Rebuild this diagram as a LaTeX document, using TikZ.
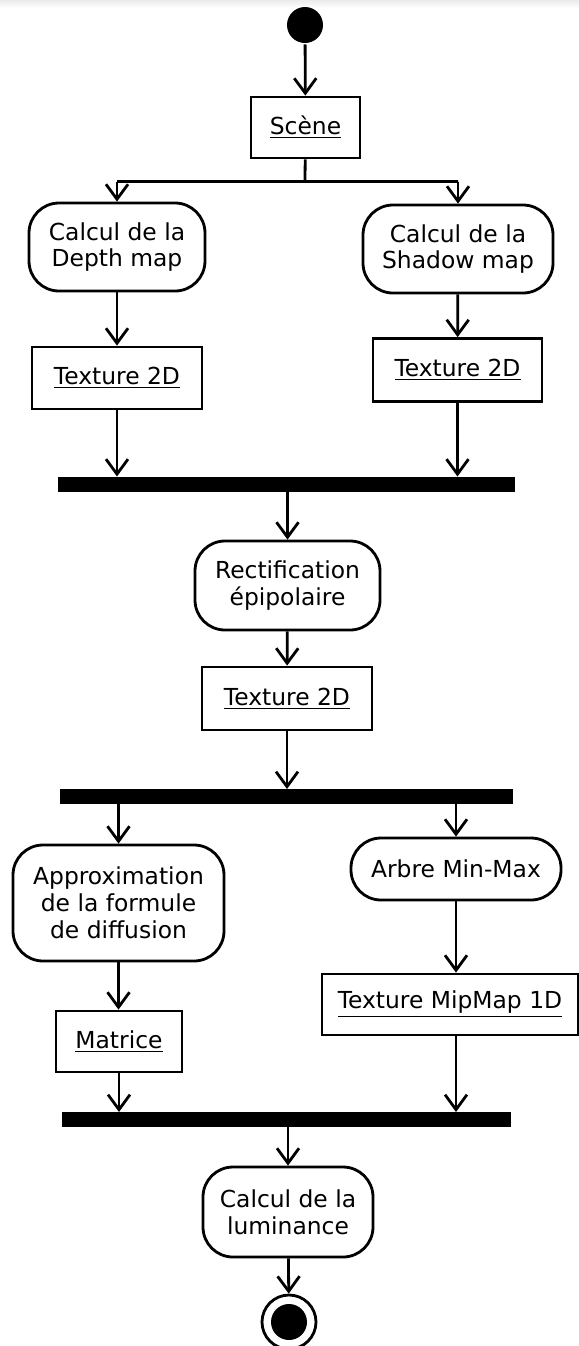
\documentclass[tikz,border=0pt]{standalone}
\usepackage{fontspec}
\setmainfont{DejaVu Sans}
\usetikzlibrary{arrows.meta}
\begin{document}
\begin{tikzpicture}[x=0.5pt,y=-0.5pt,>={Straight Barb[length=7.5pt,width=11pt]},line width=1.4pt,
	font=\fontsize{11.7}{13.4}\selectfont,
	act/.style={draw,rounded corners=15pt,align=center,inner sep=0pt},
	obj/.style={draw,rectangle,align=center,inner sep=0pt},
	bar/.style={fill=black,inner sep=0pt,outer sep=0pt,minimum height=7.5pt},
	init/.style={circle,fill=black,inner sep=0pt,minimum size=18pt},
	final/.style={circle,draw,inner sep=0pt,minimum size=27pt,path picture={\fill (path picture bounding box.center) circle (9pt);}}]
	\useasboundingbox (0,0) rectangle (579,1346);
	\shade[top color=black!8,bottom color=white,draw=none] (0,0) rectangle (579,8);
	\node[init] (start) at (305,25) {};
	\node[obj,minimum width=54.5pt,minimum height=30.5pt] (scene) at (305.5,127.5) {\underline{Scène}};
	\path (305,181.5) coordinate (split);
	\node[act,minimum width=88pt,minimum height=44pt] (depth) at (117,247) {Calcul de la\\Depth map};
	\node[act,minimum width=95pt,minimum height=44pt] (shadow) at (458,249) {Calcul de la\\Shadow map};
	\node[obj,minimum width=85pt,minimum height=31pt] (texA) at (117,378) {\underline{Texture 2D}};
	\node[obj,minimum width=84.5pt,minimum height=31.5pt] (texB) at (457.5,370) {\underline{Texture 2D}};
	\node[bar,minimum width=228.5pt] (barA) at (286.5,484) {};
	\node[act,minimum width=92.5pt,minimum height=44.5pt] (rectif) at (287.5,585.5) {Rectification\\épipolaire};
	\node[obj,minimum width=85pt,minimum height=31.5pt] (texC) at (287,698.5) {\underline{Texture 2D}};
	\node[bar,minimum width=226.5pt] (barB) at (286.5,796.5) {};
	\node[act,minimum width=105.5pt,minimum height=58pt] (approx) at (118.5,903) {Approximation\\de la formule\\de diffusion};
	\node[act,minimum width=105pt,minimum height=31pt] (minmax) at (456,869) {Arbre Min-Max};
	\node[obj,minimum width=63pt,minimum height=30.5pt] (matrice) at (119,1041.5) {\underline{Matrice}};
	\node[obj,minimum width=128pt,minimum height=30.5pt] (mipmap) at (450,1004.5) {\underline{Texture MipMap 1D}};
	\node[bar,minimum width=224.5pt] (barC) at (286.5,1119.5) {};
	\node[act,minimum width=85pt,minimum height=45pt] (lum) at (288,1212) {Calcul de la\\luminance};
	\node[final] (end) at (289,1322) {};
	% flot
	\draw[->] (start) -- (scene);
	\draw (scene) -- (split) (depth |- split) -- (shadow |- split);
	\draw[->] (depth |- split) -- (depth);
	\draw[->] (shadow |- split) -- (shadow);
	\draw[->] (depth) -- (texA);
	\draw[->] (shadow) -- (texB);
	\draw[->] (texA) -- (texA |- barA.north);
	\draw[->] (texB) -- (texB |- barA.north);
	\draw[->] (rectif |- barA.south) -- (rectif);
	\draw[->] (rectif) -- (texC);
	\draw[->] (texC) -- (texC |- barB.north);
	\draw[->] (approx |- barB.south) -- (approx);
	\draw[->] (minmax |- barB.south) -- (minmax);
	\draw[->] (approx) -- (approx |- matrice.north);
	\draw[->] (minmax) -- (minmax |- mipmap.north);
	\draw[->] (matrice) -- (matrice |- barC.north);
	\draw[->] (minmax |- mipmap.south) -- (minmax |- barC.north);
	\draw[->] (lum |- barC.south) -- (lum);
	\draw[->] (lum) -- (end);
\end{tikzpicture}
\end{document}
